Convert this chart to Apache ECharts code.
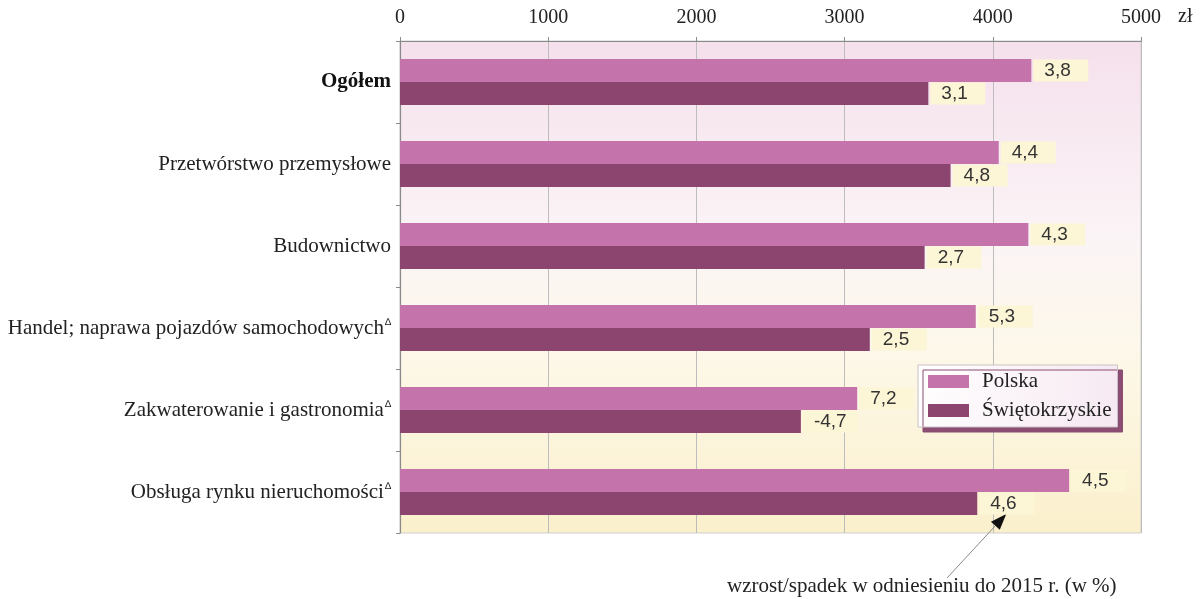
<!DOCTYPE html>
<html><head><meta charset="utf-8">
<script src="https://cdn.jsdelivr.net/npm/echarts@6/dist/echarts.min.js"></script>
<style>html,body{margin:0;padding:0;background:#fff}#c{width:1203px;height:599px}</style>
</head><body><div id="c"></div>
<script>
const categories = ['Ogółem','Przetwórstwo przemysłowe','Budownictwo','Handel; naprawa pojazdów samochodowych','Zakwaterowanie i gastronomia','Obsługa rynku nieruchomości'];
const hasMark = [false,false,false,true,true,true];
const polska = [4260, 4040, 4240, 3885, 3085, 4515];
const swietokrzyskie = [3565, 3715, 3540, 3170, 2705, 3895];
const changePolska = ['3,8','4,4','4,3','5,3','7,2','4,5'];
const changeSwiet = ['3,1','4,8','2,7','2,5','-4,7','4,6'];
const xTicks = [0,1000,2000,3000,4000,5000];

const serif = '"Liberation Serif","DejaVu Serif",serif';
const sans = '"Liberation Sans",Arial,sans-serif';
const chart = echarts.init(document.getElementById('c'));

function lbl(arr){
  return {
    show:true, position:'right', distance:2,
    formatter: p => arr[p.dataIndex],
    fontFamily: sans, fontSize:19, lineHeight:18, color:'#333',
    backgroundColor:'#fcf5d6', padding:[2,11,2,11], width:33, align:'left'
  };
}

chart.setOption({
  animation:false,
  grid:{left:400,right:62,top:41,bottom:66,show:true,borderWidth:1,borderColor:'#cfcfcf',
    backgroundColor:{type:'linear',x:0,y:0,x2:0,y2:1,colorStops:[
      {offset:0,color:'#f5e0ec'},{offset:0.4,color:'#fbf4f6'},{offset:0.62,color:'#fdf8ea'},{offset:1,color:'#fbf0cc'}]}},
  legend:{
    orient:'vertical', left:918, top:365, itemWidth:41, itemHeight:13, itemGap:8,
    padding:[6,6,6,10], icon:'rect',
    backgroundColor:{type:'linear',x:0,y:0,x2:1,y2:1,colorStops:[{offset:0,color:'#ffffff'},{offset:1,color:'#f6e8f1'}]},
    borderColor:'#c9c0c6', borderWidth:1,
    shadowColor:'#8b4d72', shadowOffsetX:5, shadowOffsetY:5, shadowBlur:0,
    textStyle:{fontFamily:serif,fontSize:21,color:'#222',padding:[0,0,0,8]},
    data:['Polska','Świętokrzyskie']
  },
  xAxis:{
    type:'value', position:'top', min:0, max:5000, interval:1000,
    name:'zł', nameLocation:'end', nameGap:37,
    nameTextStyle:{fontFamily:serif,fontSize:20,color:'#222',verticalAlign:'bottom',padding:[0,0,14,0]},
    axisLine:{show:true,lineStyle:{color:'#8a8a8a',width:1.2}},
    axisTick:{show:true,length:4,lineStyle:{color:'#8a8a8a'}},
    axisLabel:{fontFamily:serif,fontSize:20,color:'#222',margin:13,
      formatter:v=>xTicks.includes(v)?String(v):''},
    splitLine:{show:true,lineStyle:{color:'#bdbdbd',width:1}}
  },
  yAxis:{
    type:'category', inverse:true, data:categories,
    axisLine:{show:true,lineStyle:{color:'#8a8a8a',width:1.2}},
    axisTick:{show:true,length:4,lineStyle:{color:'#8a8a8a'}},
    axisLabel:{margin:9,
      formatter:(v,i)=> i===0 ? '{b|'+v+'}' : (hasMark[i] ? '{a|'+v+'}{s|∆}' : '{a|'+v+'}'),
      rich:{
        a:{fontFamily:serif,fontSize:21,color:'#222'},
        b:{fontFamily:serif,fontSize:21,color:'#111',fontWeight:'bold'},
        s:{fontFamily:sans,fontSize:10,color:'#222',padding:[0,0,12,1]}
      }}
  },
  series:[
    {name:'Polska',type:'bar',data:polska,barGap:'0%',barCategoryGap:'44%',
      itemStyle:{color:'#c473ab'},label:lbl(changePolska)},
    {name:'Świętokrzyskie',type:'bar',data:swietokrzyskie,barGap:'0%',barCategoryGap:'44%',
      itemStyle:{color:'#8b456f'},label:lbl(changeSwiet)}
  ]
});

// annotation arrow pointing at last Świętokrzyskie label
const last = categories.length-1;
const tip = chart.convertToPixel({xAxisIndex:0,yAxisIndex:0},[swietokrzyskie[last],categories[last]]);
const tx = tip[0]+29, ty = tip[1]+22;
const sx = 947, sy = 578;
const ang = Math.atan2(ty-sy, tx-sx);
const hl = 16, hw = 6;
const bx = tx - hl*Math.cos(ang), by = ty - hl*Math.sin(ang);
chart.setOption({graphic:[
  {type:'line',shape:{x1:sx,y1:sy,x2:bx,y2:by},style:{stroke:'#888',lineWidth:1}},
  {type:'polygon',shape:{points:[[tx,ty],[bx-hw*Math.sin(ang),by+hw*Math.cos(ang)],[bx+hw*Math.sin(ang),by-hw*Math.cos(ang)]]},style:{fill:'#111'}},
  {type:'text',left:727,top:576,style:{text:'wzrost/spadek w odniesieniu do 2015 r. (w %)',font:'21px '+serif,fill:'#222'}}
]});
</script></body></html>
